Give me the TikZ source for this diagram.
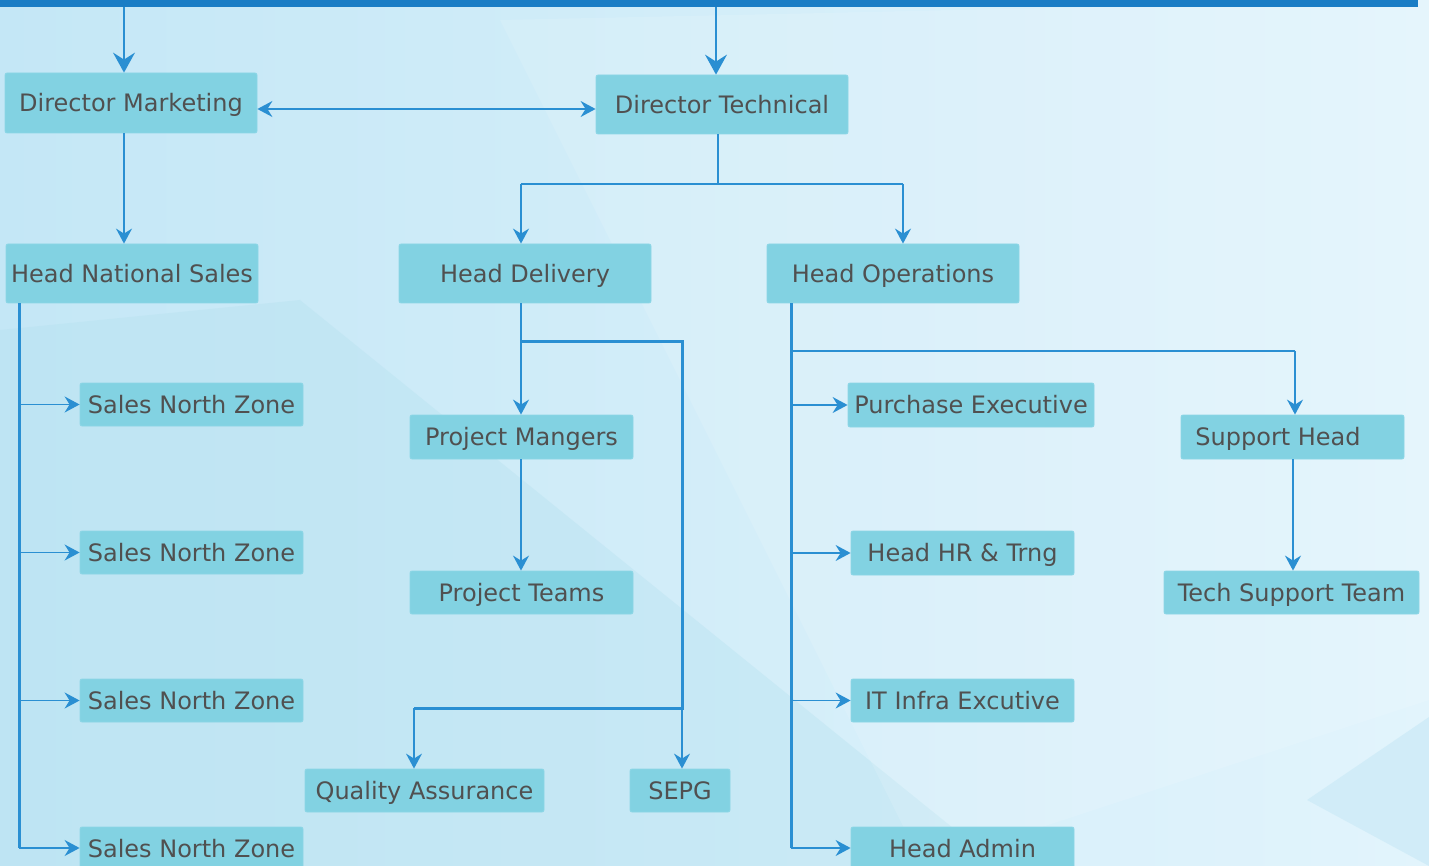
\documentclass[tikz,border=0pt]{standalone}
\usepackage{fontspec}
\setmainfont{DejaVu Sans}
\usetikzlibrary{arrows.meta}
\definecolor{barc}{HTML}{1A7DC5}
\definecolor{lnc}{HTML}{2A8FD2}
\definecolor{boxc}{HTML}{82D2E2}
\definecolor{boxe}{HTML}{8CD6E6}
\definecolor{txtc}{HTML}{505050}
\definecolor{bgA}{HTML}{C4E7F6}
\definecolor{bgB}{HTML}{E2F4FC}
\definecolor{bgC}{HTML}{B3E0EE}
\definecolor{bgD}{HTML}{CBEAF7}
\begin{document}
\begin{tikzpicture}[x=1pt,y=-1pt,
  box/.style={fill=boxc, draw=boxe, line width=0.8pt, rounded corners=2pt, text=txtc,
    font=\fontsize{24}{28}\selectfont, inner sep=0pt, text height=17.5pt, text depth=0pt},
  thinln/.style={draw=lnc, line width=1.6pt},
  medln/.style={draw=lnc, line width=2.3pt},
  thickln/.style={draw=lnc, line width=3pt},
  sa/.style={-{Stealth[length=15pt,width=16pt,inset=5pt]}},
  ba/.style={-{Stealth[length=20pt,width=22pt,inset=7pt]}},
  da/.style={{Stealth[length=15pt,width=16pt,inset=5pt]}-{Stealth[length=15pt,width=16pt,inset=5pt]}},
]
\useasboundingbox (0,0) rectangle (1429,866);
\clip (0,0) rectangle (1429,866);
% background
\shade[left color=bgA, right color=bgB] (0,0) rectangle (1429,866);
\fill[bgC, opacity=0.35] (0,330) -- (300,300) -- (1000,866) -- (0,866) -- cycle;
\fill[white, opacity=0.12] (500,20) -- (1429,0) -- (1429,700) -- (923,866) -- cycle;
\fill[bgD, opacity=0.7] (1429,717) -- (1307,800) -- (1429,866) -- cycle;

% top bar
\node[fill=barc, inner sep=0pt, minimum width=1418pt, minimum height=7pt, anchor=north west] (bar) at (0,0) {};

% nodes
\node[box, minimum width=252pt, minimum height=60pt] (dm) at (131,103) {Director Marketing};
\node[box, minimum width=252pt, minimum height=59pt] (dt) at (722,104.5) {Director Technical};
\node[box, minimum width=252pt, minimum height=59pt] (hns) at (132,273.5) {Head National Sales};
\node[box, minimum width=252pt, minimum height=59pt] (hd) at (525,273.5) {Head Delivery};
\node[box, minimum width=252pt, minimum height=59pt] (ho) at (893,273.5) {Head Operations};

\node[box, minimum width=223pt, minimum height=43pt] (s1) at (191.5,404.5) {Sales North Zone};
\node[box, minimum width=223pt, minimum height=43pt] (s2) at (191.5,552.5) {Sales North Zone};
\node[box, minimum width=223pt, minimum height=43pt] (s3) at (191.5,700.5) {Sales North Zone};
\node[box, minimum width=223pt, minimum height=43pt] (s4) at (191.5,848.5) {Sales North Zone};

\node[box, minimum width=223pt, minimum height=44pt] (pm) at (521.5,437) {Project Mangers};
\node[box, minimum width=223pt, minimum height=43pt] (pt) at (521.5,592.5) {Project Teams};
\node[box, minimum width=239pt, minimum height=43pt] (qa) at (424.5,790.5) {Quality Assurance};
\node[box, minimum width=100pt, minimum height=43pt] (sepg) at (680,790.5) {SEPG};

\node[box, minimum width=246pt, minimum height=44pt] (pe) at (971,405) {Purchase Executive};
\node[box, minimum width=223pt, minimum height=44pt] (hr) at (962.5,553) {Head HR \& Trng};
\node[box, minimum width=223pt, minimum height=43pt] (it) at (962.5,700.5) {IT Infra Excutive};
\node[box, minimum width=223pt, minimum height=43pt] (ha) at (962.5,848.5) {Head Admin};

\node[box, minimum width=223pt, minimum height=44pt] (sh) at (1292.5,437) {Support Head\hspace*{29pt}};
\node[box, minimum width=255pt, minimum height=43pt] (ts) at (1291.5,592.5) {Tech Support Team};

% coordinates
\coordinate (t1) at (124,7);
\coordinate (t2) at (716,7);
\coordinate (dj) at (718,184);
\coordinate (dl) at (521,184);
\coordinate (dr) at (903,184);
\coordinate (hj) at (19,848);
\coordinate (sx) at (19,0);
\coordinate (hdj) at (521,342);
\coordinate (hdr) at (682,342);
\coordinate (hdb) at (682,708);
\coordinate (hdq) at (414,708);
\coordinate (ox) at (791,0);
\coordinate (ob) at (791,848);
\coordinate (oj) at (791,351);
\coordinate (or) at (1295,351);
\coordinate (tsx) at (1293,0);

% connectors from top bar
\draw[thinln, ba] (t1) -- (t1 |- dm.north);
\draw[thinln, ba] (t2) -- (t2 |- dt.north);
\draw[thinln, da] (dm.east |- 0,109) -- (dt.west |- 0,109);
\draw[thinln, sa] (dm.south -| t1) -- (hns.north -| t1);

% director technical branch
\draw[medln] (dt.south -| dj) -- (dj);
\draw[medln] (dl) -- (dr);
\draw[thinln, sa] (dl) -- (hd.north -| dl);
\draw[thinln, sa] (dr) -- (ho.north -| dr);

% head national sales
\draw[thickln] (hns.south -| sx) -- (hj);
\draw[thinln, sa] (sx |- s1.west) -- (s1.west);
\draw[thinln, sa] (sx |- s2.west) -- (s2.west);
\draw[thinln, sa] (sx |- s3.west) -- (s3.west);
\draw[thinln, sa] (hj) -- (s4.west |- hj);

% head delivery
\draw[thinln, sa] (hd.south -| hdj) -- (pm.north -| hdj);
\draw[thickln] (hdj) -- (hdr) -- (hdb) -- (hdq);
\draw[thinln, sa] (hdq) -- (qa.north -| hdq);
\draw[thinln, sa] (hdb) -- (sepg.north -| hdb);
\draw[thinln, sa] (pm.south -| hdj) -- (pt.north -| hdj);

% head operations
\draw[thickln] (ho.south -| ox) -- (ob);
\draw[thinln, sa] (ox |- pe.west) -- (pe.west);
\draw[thinln, sa] (ox |- hr.west) -- (hr.west);
\draw[thinln, sa] (ox |- it.west) -- (it.west);
\draw[thinln, sa] (ob) -- (ha.west |- ob);
\draw[medln] (oj) -- (or);
\draw[thinln, sa] (or) -- (sh.north -| or);
\draw[thinln, sa] (sh.south -| tsx) -- (ts.north -| tsx);
\end{tikzpicture}
\end{document}
